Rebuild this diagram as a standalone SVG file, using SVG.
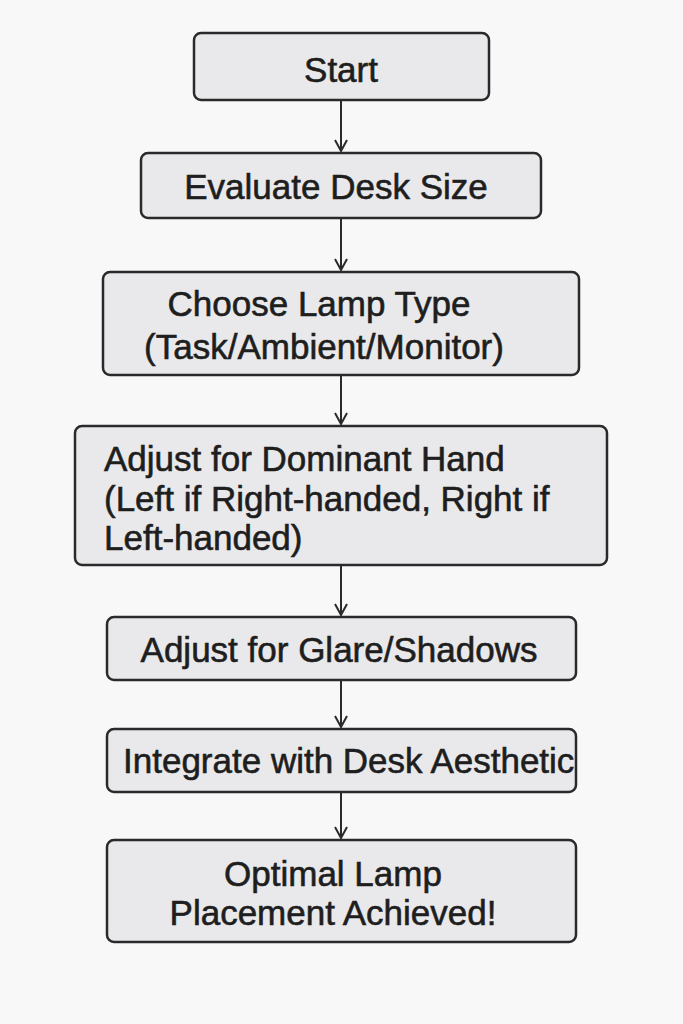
<svg xmlns="http://www.w3.org/2000/svg" width="683" height="1024" viewBox="0 0 683 1024">
<style>
.b{fill:#e9e9eb;stroke:#2a2a2a;stroke-width:2.5}
.t{font-family:"Liberation Sans",Arial,sans-serif;font-size:35px;fill:#1e1e1e;stroke:#1e1e1e;stroke-width:0.6}
.c{text-anchor:middle}
.e{stroke:#2a2a2a;stroke-width:2;fill:none}
</style>
<defs><marker id="a" markerWidth="14" markerHeight="14" refX="12" refY="7" orient="auto" markerUnits="userSpaceOnUse"><path d="M1,1 L12,7 L1,13" fill="none" stroke="#2a2a2a" stroke-width="2"/></marker></defs>
<rect width="683" height="1024" fill="#f8f8f8"/>
<g id="n1"><rect class="b" x="194" y="33" width="295" height="67" rx="7"/><text class="t c" x="341" y="82">Start</text></g>
<g id="n2"><rect class="b" x="141" y="153" width="400" height="65" rx="7"/><text class="t c" x="336" y="199">Evaluate Desk Size</text></g>
<g id="n3"><rect class="b" x="103" y="272" width="476" height="103" rx="7"/><text class="t c" x="319" y="316">Choose Lamp Type</text><text class="t c" x="324" y="359">(Task/Ambient/Monitor)</text></g>
<g id="n4"><rect class="b" x="75" y="426" width="532" height="139" rx="7"/><text class="t" x="104" y="471">Adjust for Dominant Hand</text><text class="t" x="104" y="511">(Left if Right-handed, Right if</text><text class="t" x="104" y="550">Left-handed)</text></g>
<g id="n5"><rect class="b" x="107" y="617" width="469" height="63" rx="7"/><text class="t c" x="339" y="662">Adjust for Glare/Shadows</text></g>
<g id="n6"><rect class="b" x="107" y="729" width="469" height="63" rx="7"/><text class="t" x="123" y="773">Integrate with Desk Aesthetic</text></g>
<g id="n7"><rect class="b" x="107" y="840" width="469" height="102" rx="7"/><text class="t c" x="333" y="886">Optimal Lamp</text><text class="t c" x="333" y="925">Placement Achieved!</text></g>
<g id="edges">
<line class="e" x1="341" y1="100" x2="341" y2="151" marker-end="url(#a)"/>
<line class="e" x1="341" y1="218" x2="341" y2="270" marker-end="url(#a)"/>
<line class="e" x1="341" y1="375" x2="341" y2="424" marker-end="url(#a)"/>
<line class="e" x1="341" y1="565" x2="341" y2="615" marker-end="url(#a)"/>
<line class="e" x1="341" y1="680" x2="341" y2="727" marker-end="url(#a)"/>
<line class="e" x1="341" y1="792" x2="341" y2="838" marker-end="url(#a)"/>
</g>
</svg>
